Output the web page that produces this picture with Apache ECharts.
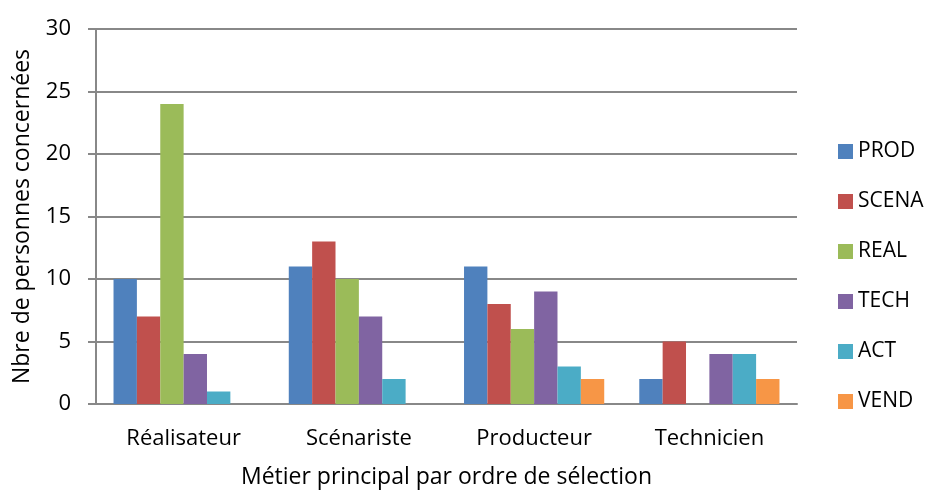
<!DOCTYPE html>
<html><head><meta charset="utf-8">
<script src="https://cdn.jsdelivr.net/npm/echarts@6/dist/echarts.min.js"></script>
<style>html,body{margin:0;padding:0;background:#fff}#c{width:934px;height:491px}</style>
</head><body><div id="c"></div>
<script>
const categories = ['Réalisateur', 'Scénariste', 'Producteur', 'Technicien'];
const seriesNames = ['PROD', 'SCENA', 'REAL', 'TECH', 'ACT', 'VEND'];
const PROD  = [10, 11, 11, 2];
const SCENA = [7, 13, 8, 5];
const REAL  = [24, 10, 6, 0];
const TECH  = [4, 7, 9, 4];
const ACT   = [1, 2, 3, 4];
const VEND  = [0, 0, 2, 2];
const yTicks = [0, 5, 10, 15, 20, 25, 30];
const colors = ['#4F81BD', '#C0504D', '#9BBB59', '#8064A2', '#4BACC6', '#F79646'];
const values = [PROD, SCENA, REAL, TECH, ACT, VEND];
const font = '"Open Sans", "Noto Sans", sans-serif';

const chart = echarts.init(document.getElementById('c'), null, {renderer: 'canvas'});
chart.setOption({
  animation: false,
  textStyle: {fontFamily: font},
  grid: {left: 96, right: 137, top: 29, bottom: 87, containLabel: false, outerBoundsMode: 'none'},
  legend: {
    orient: 'vertical', left: 833, top: 136, itemWidth: 15, itemHeight: 15, itemGap: 29,
    icon: 'rect',
    textStyle: {fontSize: 21, color: '#000', fontFamily: font},
    data: seriesNames
  },
  xAxis: {
    type: 'category', data: categories,
    name: 'Métier principal par ordre de sélection', nameLocation: 'middle', nameGap: 62,
    nameTextStyle: {fontSize: 23, color: '#000', fontFamily: font},
    axisLine: {lineStyle: {color: '#888', width: 2}},
    axisTick: {show: false},
    axisLabel: {fontSize: 22, color: '#000', margin: 24, fontFamily: font}
  },
  yAxis: {
    type: 'value', min: yTicks[0], max: yTicks[yTicks.length - 1], interval: 5,
    name: 'Nbre de personnes concernées', nameLocation: 'middle', nameGap: 62,
    nameTextStyle: {fontSize: 23, color: '#000', fontFamily: font},
    axisLine: {show: true, lineStyle: {color: '#888', width: 2}},
    axisTick: {show: true, length: 8, lineStyle: {color: '#888', width: 2}},
    splitLine: {lineStyle: {color: '#888', width: 2}},
    axisLabel: {fontSize: 22, color: '#000', margin: 25, fontFamily: font}
  },
  series: seriesNames.map((n, i) => ({
    name: n, type: 'bar', data: values[i],
    barGap: '0%', barCategoryGap: '20%',
    itemStyle: {color: colors[i]}
  }))
});
</script></body></html>
